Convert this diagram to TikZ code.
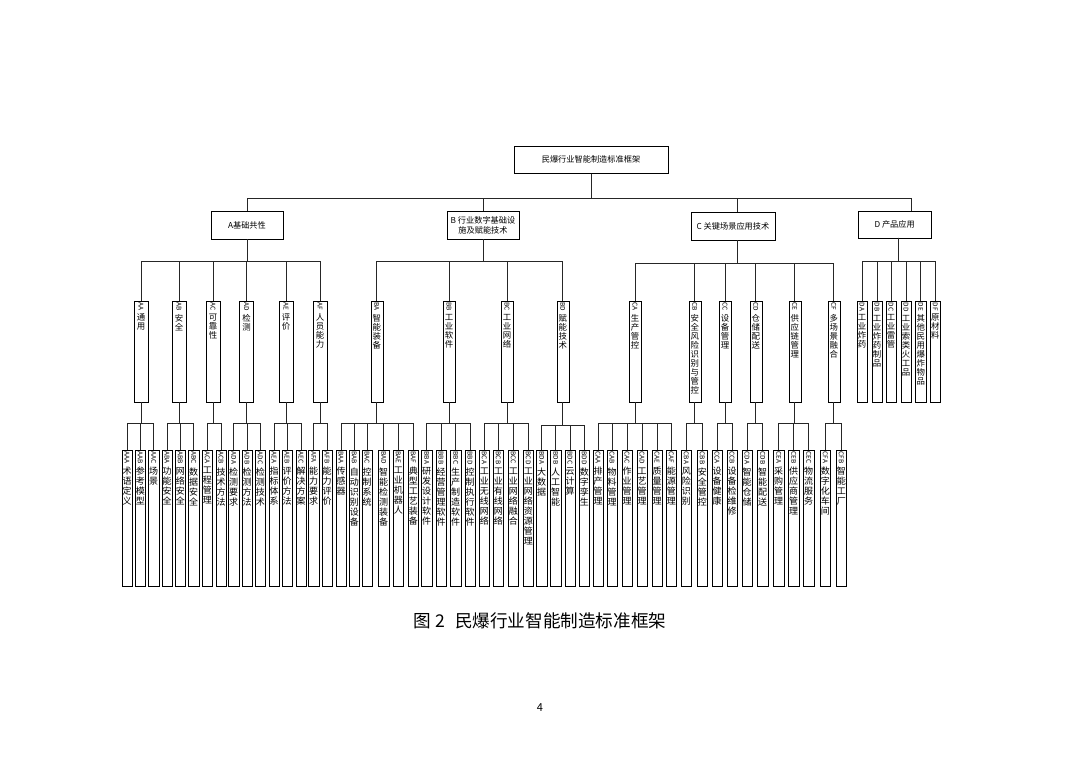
\documentclass[tikz,border=0pt]{standalone}
\usepackage{fontspec}
\usepackage{graphicx}
\setmainfont{Noto Sans CJK SC}
\usepackage{tikz}

\makeatletter
\newcommand\chstack[1]{\@tfor\ch@r:=#1\do{\makebox[\linewidth]{\ch@r}\par}}
\makeatother
\newcommand\vlab[3][133pt]{\parbox[c][#1][t]{8pt}{\centering
  \makebox[\linewidth]{\rotatebox{-90}{\fontsize{6.5}{7}\selectfont#2}}\par
  \vspace{2.5pt}\chstack{#3}}}

\tikzset{
  headbox/.style={draw,minimum height=28,align=center,inner sep=2pt},
  catbox/.style={draw,anchor=north,inner xsep=0pt,inner ysep=1.5pt,
    minimum width=#1,font=\fontsize{8.4}{9}\selectfont},
  catbox/.default=12,
  leafbox/.style={draw,anchor=north,inner xsep=0pt,inner ysep=1.5pt,
    minimum width=10.5,font=\fontsize{9}{10}\selectfont}
}

\begin{document}
\begin{tikzpicture}
  [x=1pt,y=-1pt,
  every node/.style={font=\fontsize{8.2}{10}\selectfont},
  link/.style={draw=black!85,line width=0.6pt}]

\useasboundingbox (0,0) rectangle (1080,764);

% top
\node[draw,minimum width=154,minimum height=27.6] (root) at (591,159.5) {民爆行业智能制造标准框架};

% first level
\node[headbox,minimum width=72] (A) at (247,225) {A基础共性};
\node[headbox,minimum width=72] (B) at (483,225) {B 行业数字基础设\\施及赋能技术};
\node[headbox,minimum width=84] (C) at (733,226) {C 关键场景应用技术};
\node[headbox,minimum width=73,minimum height=27] (D) at (894.7,224.2) {D 产品应用};

\draw[link] (root.south) -- ++(0,25) -| (A.north);
\draw[link] (root.south) -- ++(0,25) -| (B.north);
\draw[link] (root.south) -- ++(0,25) -| ([xshift=4]C.north);
\draw[link] (root.south) -- ++(0,25) -| ([xshift=17]D.north);

% second level
\node[catbox=14] (AA) at (141,301) {\vlab[98pt]{AA}{通用}};
\node[catbox=14] (AB) at (179,301) {\vlab[98pt]{AB}{安全}};
\node[catbox=14] (AC) at (213,301) {\vlab[98pt]{AC}{可靠性}};
\node[catbox=14] (AD) at (246.5,301) {\vlab[98pt]{AD}{检测}};
\node[catbox=14] (AE) at (286,301) {\vlab[98pt]{AE}{评价}};
\node[catbox=14] (AF) at (320,301) {\vlab[98pt]{AF}{人员能力}};

\node[catbox] (BA) at (376.7,301) {\vlab[98pt]{BA}{智能装备}};
\node[catbox] (BB) at (449,301) {\vlab[98pt]{BB}{工业软件}};
\node[catbox] (BC) at (507,301) {\vlab[98pt]{BC}{工业网络}};
\node[catbox] (BD) at (562.7,301) {\vlab[98pt]{BD}{赋能技术}};

\node[catbox] (CA) at (635,301) {\vlab[98pt]{CA}{生产管控}};
\node[catbox] (CB) at (694.7,301) {\vlab[98pt]{CB}{安全风险识别与管控}};
\node[catbox] (CC) at (725,301) {\vlab[98pt]{CC}{设备管理}};
\node[catbox] (CD) at (755.7,301) {\vlab[98pt]{CD}{仓储配送}};
\node[catbox] (CE) at (794.7,301) {\vlab[98pt]{CE}{供应链管理}};
\node[catbox] (CF) at (833.7,301) {\vlab[98pt]{CF}{多场景融合}};

\node[catbox=10.5] (DA) at (862,301) {\vlab[98pt]{DA}{工业炸药}};
\node[catbox=10.5] (DB) at (877,301) {\vlab[98pt]{DB}{工业炸药制品}};
\node[catbox=10.5] (DC) at (891,301) {\vlab[98pt]{DC}{工业雷管}};
\node[catbox=10.5] (DD) at (906,301) {\vlab[98pt]{DD}{工业索类火工品}};
\node[catbox=10.5] (DE) at (920.7,301) {\vlab[98pt]{DE}{其他民用爆炸物品}};
\node[catbox=10.5] (DF) at (935.3,301) {\vlab[98pt]{DF}{原材料}};

\draw[link] (A.south) -- ++(0,22) -| (AA.north); \draw[link] (A.south) -- ++(0,22) -| (AB.north);
\draw[link] (A.south) -- ++(0,22) -| (AC.north); \draw[link] (A.south) -- ++(0,22) -| (AD.north);
\draw[link] (A.south) -- ++(0,22) -| (AE.north); \draw[link] (A.south) -- ++(0,22) -| (AF.north);
\draw[link] (B.south) -- ++(0,22) -| (BA.north); \draw[link] (B.south) -- ++(0,22) -| (BB.north);
\draw[link] (B.south) -- ++(0,22) -| (BC.north); \draw[link] (B.south) -- ++(0,22) -| (BD.north);
\draw[link] ([xshift=4]C.south) -- ++(0,22.7) -| (CA.north); \draw[link] ([xshift=4]C.south) -- ++(0,22.7) -| (CB.north);
\draw[link] ([xshift=4]C.south) -- ++(0,22.7) -| (CC.north); \draw[link] ([xshift=4]C.south) -- ++(0,22.7) -| (CD.north);
\draw[link] ([xshift=4]C.south) -- ++(0,22.7) -| (CE.north); \draw[link] ([xshift=4]C.south) -- ++(0,22.7) -| (CF.north);
\draw[link] ([xshift=3.6]D.south) -- ++(0,23) -| (DA.north); \draw[link] ([xshift=3.6]D.south) -- ++(0,23) -| (DB.north);
\draw[link] ([xshift=3.6]D.south) -- ++(0,23) -| (DC.north); \draw[link] ([xshift=3.6]D.south) -- ++(0,23) -| (DD.north);
\draw[link] ([xshift=3.6]D.south) -- ++(0,23) -| (DE.north); \draw[link] ([xshift=3.6]D.south) -- ++(0,23) -| (DF.north);

% third level
\node[leafbox] (AAA) at (127,450) {\vlab{AAA}{术语定义}};
\node[leafbox] (AAB) at (140.3,450) {\vlab{AAB}{参考模型}};
\node[leafbox] (AAC) at (153.7,450) {\vlab{AAC}{场景}};
\node[leafbox] (ABA) at (167,450) {\vlab{ABA}{功能安全}};
\node[leafbox] (ABB) at (180.3,450) {\vlab{ABB}{网络安全}};
\node[leafbox] (ABC) at (193.7,450) {\vlab{ABC}{数据安全}};
\node[leafbox] (ACA) at (207.3,450) {\vlab{ACA}{工程管理}};
\node[leafbox] (ACB) at (221,450) {\vlab{ACB}{技术方法}};
\node[leafbox] (ADA) at (233.7,450) {\vlab{ADA}{检测要求}};
\node[leafbox] (ADB) at (247,450) {\vlab{ADB}{检测方法}};
\node[leafbox] (ADC) at (260.3,450) {\vlab{ADC}{检测技术}};
\node[leafbox] (AEA) at (274,450) {\vlab{AEA}{指标体系}};
\node[leafbox] (AEB) at (287,450) {\vlab{AEB}{评价方法}};
\node[leafbox] (AEC) at (301,450) {\vlab{AEC}{解决方案}};
\node[leafbox] (AFA) at (313.7,450) {\vlab{AFA}{能力要求}};
\node[leafbox] (AFB) at (327,450) {\vlab{AFB}{能力评价}};

\node[leafbox] (BAA) at (341,450) {\vlab{BAA}{传感器}};
\node[leafbox] (BAB) at (354.3,450) {\vlab{BAB}{自动识别设备}};
\node[leafbox] (BAC) at (367,450) {\vlab{BAC}{控制系统}};
\node[leafbox] (BAD) at (383.7,450) {\vlab{BAD}{智能检测装备}};
\node[leafbox] (BAE) at (398.3,450) {\vlab{BAE}{工业机器人}};
\node[leafbox] (BAF) at (413.3,450) {\vlab{BAF}{典型工艺装备}};
\node[leafbox] (BBA) at (426.7,450) {\vlab{BBA}{研发设计软件}};
\node[leafbox] (BBB) at (441,450) {\vlab{BBB}{经营管理软件}};
\node[leafbox] (BBC) at (455.7,450) {\vlab{BBC}{生产制造软件}};
\node[leafbox] (BBD) at (470,450) {\vlab{BBD}{控制执行软件}};
\node[leafbox] (BCA) at (484.3,450) {\vlab{BCA}{工业无线网络}};
\node[leafbox] (BCB) at (498.3,450) {\vlab{BCB}{工业有线网络}};
\node[leafbox] (BCC) at (513.3,450) {\vlab{BCC}{工业网络融合}};
\node[leafbox] (BCD) at (528.3,450) {\vlab{BCD}{工业网络资源管理}};
\node[leafbox] (BDA) at (541.7,450) {\vlab{BDA}{大数据}};
\node[leafbox] (BDB) at (555.7,450) {\vlab{BDB}{人工智能}};
\node[leafbox] (BDC) at (570,450) {\vlab{BDC}{云计算}};
\node[leafbox] (BDD) at (584.3,450) {\vlab{BDD}{数字孪生}};

\node[leafbox] (CAA) at (598,450) {\vlab{CAA}{排产管理}};
\node[leafbox] (CAB) at (612,450) {\vlab{CAB}{物料管理}};
\node[leafbox] (CAC) at (627,450) {\vlab{CAC}{作业管理}};
\node[leafbox] (CAD) at (642,450) {\vlab{CAD}{工艺管理}};
\node[leafbox] (CAE) at (657,450) {\vlab{CAE}{质量管理}};
\node[leafbox] (CAF) at (671.3,450) {\vlab{CAF}{能源管理}};
\node[leafbox] (CBA) at (686.3,450) {\vlab{CBA}{风险识别}};
\node[leafbox] (CBB) at (702.3,450) {\vlab{CBB}{安全管控}};
\node[leafbox] (CCA) at (717,450) {\vlab{CCA}{设备健康}};
\node[leafbox] (CCB) at (732,450) {\vlab{CCB}{设备检维修}};
\node[leafbox] (CDA) at (747,450) {\vlab{CDA}{智能仓储}};
\node[leafbox] (CDB) at (762.7,450) {\vlab{CDB}{智能配送}};
\node[leafbox] (CEA) at (778.7,450) {\vlab{CEA}{采购管理}};
\node[leafbox] (CEB) at (793.7,450) {\vlab{CEB}{供应商管理}};
\node[leafbox] (CEC) at (808.7,450) {\vlab{CEC}{物流服务}};
\node[leafbox] (CFA) at (825.3,450) {\vlab{CFA}{数字化车间}};
\node[leafbox] (CFB) at (841.3,450) {\vlab{CFB}{智能工厂}};

\draw[link] (AA.south) -- ++(0,21) -| (AAA.north); \draw[link] (AA.south) -- ++(0,21) -| (AAB.north); \draw[link] (AA.south) -- ++(0,21) -| (AAC.north);
\draw[link] (AB.south) -- ++(0,21) -| (ABA.north); \draw[link] (AB.south) -- ++(0,21) -| (ABB.north); \draw[link] (AB.south) -- ++(0,21) -| (ABC.north);
\draw[link] (AC.south) -- ++(0,21) -| (ACA.north); \draw[link] (AC.south) -- ++(0,21) -| (ACB.north);
\draw[link] (AD.south) -- ++(0,21) -| (ADA.north); \draw[link] (AD.south) -- ++(0,21) -| (ADB.north); \draw[link] (AD.south) -- ++(0,21) -| (ADC.north);
\draw[link] (AE.south) -- ++(0,21) -| (AEA.north); \draw[link] (AE.south) -- ++(0,21) -| (AEB.north); \draw[link] (AE.south) -- ++(0,21) -| (AEC.north);
\draw[link] (AF.south) -- ++(0,21) -| (AFA.north); \draw[link] (AF.south) -- ++(0,21) -| (AFB.north);
\draw[link] (BA.south) -- ++(0,21) -| (BAA.north); \draw[link] (BA.south) -- ++(0,21) -| (BAB.north); \draw[link] (BA.south) -- ++(0,21) -| (BAC.north);
\draw[link] (BA.south) -- ++(0,21) -| (BAD.north); \draw[link] (BA.south) -- ++(0,21) -| (BAE.north); \draw[link] (BA.south) -- ++(0,21) -| (BAF.north);
\draw[link] (BB.south) -- ++(0,21) -| (BBA.north); \draw[link] (BB.south) -- ++(0,21) -| (BBB.north);
\draw[link] (BB.south) -- ++(0,21) -| (BBC.north); \draw[link] (BB.south) -- ++(0,21) -| (BBD.north);
\draw[link] (BC.south) -- ++(0,21) -| (BCA.north); \draw[link] (BC.south) -- ++(0,21) -| (BCB.north);
\draw[link] (BC.south) -- ++(0,21) -| (BCC.north); \draw[link] (BC.south) -- ++(0,21) -| (BCD.north);
\draw[link] (BD.south) -- ++(0,23) -| (BDA.north); \draw[link] (BD.south) -- ++(0,23) -| (BDB.north);
\draw[link] (BD.south) -- ++(0,23) -| (BDC.north); \draw[link] (BD.south) -- ++(0,23) -| (BDD.north);
\draw[link] (CA.south) -- ++(0,21) -| (CAA.north); \draw[link] (CA.south) -- ++(0,21) -| (CAB.north); \draw[link] (CA.south) -- ++(0,21) -| (CAC.north);
\draw[link] (CA.south) -- ++(0,21) -| (CAD.north); \draw[link] (CA.south) -- ++(0,21) -| (CAE.north); \draw[link] (CA.south) -- ++(0,21) -| (CAF.north);
\draw[link] (CB.south) -- ++(0,21) -| (CBA.north); \draw[link] (CB.south) -- ++(0,21) -| (CBB.north);
\draw[link] (CC.south) -- ++(0,21) -| (CCA.north); \draw[link] (CC.south) -- ++(0,21) -| (CCB.north);
\draw[link] (CD.south) -- ++(0,21) -| (CDA.north); \draw[link] (CD.south) -- ++(0,21) -| (CDB.north);
\draw[link] (CE.south) -- ++(0,21) -| (CEA.north); \draw[link] (CE.south) -- ++(0,21) -| (CEB.north); \draw[link] (CE.south) -- ++(0,21) -| (CEC.north);
\draw[link] (CF.south) -- ++(0,21) -| (CFA.north); \draw[link] (CF.south) -- ++(0,21) -| (CFB.north);

% caption and page number
\node (cap) at (540,620.5) {\fontsize{17.6}{20}\selectfont 图\hspace{4pt}2\hspace{10pt}民爆行业智能制造标准框架};
\node (page) at (540,707.5) {\fontsize{11}{13}\selectfont 4};
\end{tikzpicture}
\end{document}
